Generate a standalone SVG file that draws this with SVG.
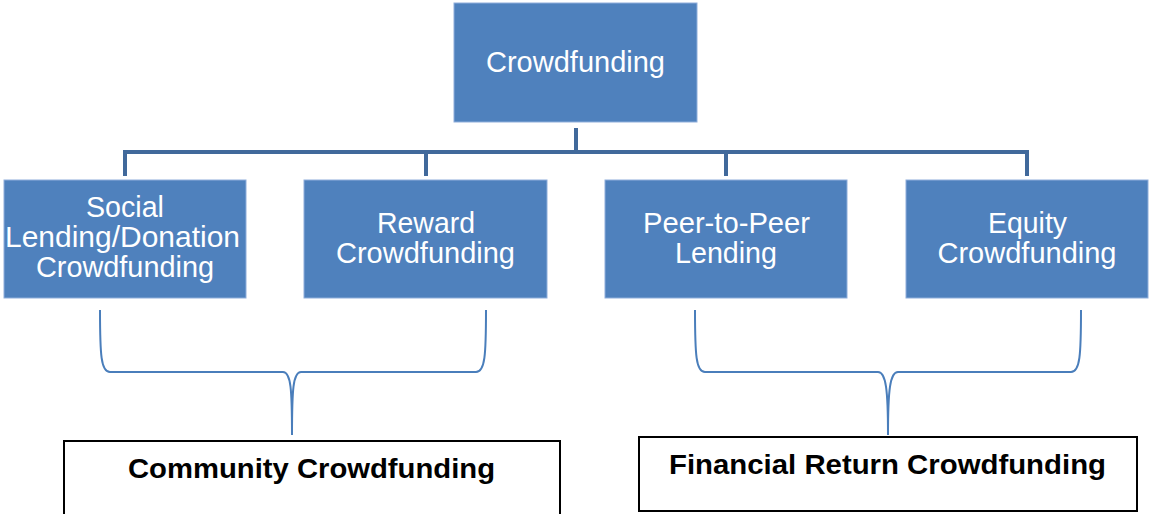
<svg xmlns="http://www.w3.org/2000/svg" width="1149" height="514" viewBox="0 0 1149 514">
<style>
.node{fill:#4F81BD;stroke:#8FAEDB;stroke-width:1}
.lbl{font-family:"Liberation Sans",Arial,sans-serif;font-size:29px;fill:#fff;text-anchor:middle}
.conn{fill:none;stroke:#41699B;stroke-width:4}
.brace{fill:none;stroke:#4A7EBB;stroke-width:2}
.box{fill:#fff;stroke:#000;stroke-width:2}
.blbl{font-family:"Liberation Sans",Arial,sans-serif;font-size:28px;font-weight:bold;fill:#000;text-anchor:middle}
</style>
<rect width="1149" height="514" fill="#fff"/>
<g id="connectors">
<path class="conn" d="M576 128V152M125 176V152H1027V176M426 152V176M726 152V176"/>
<path class="brace" d="M100 310C100 355 101 372 110 372H283C291 372 292 390 292 435C292 390 293 372 301 372H476C485 372 486 355 486 310"/>
<path class="brace" d="M695 310C695 355 696 372 705 372H878C886 372 888 390 888 435C888 390 890 372 898 372H1071C1080 372 1081 355 1081 310"/>
</g>
<g id="root"><rect class="node" x="454" y="3" width="243" height="119"/><text class="lbl" x="575.5" y="72" textLength="179" lengthAdjust="spacingAndGlyphs">Crowdfunding</text></g>
<g id="social"><rect class="node" x="4" y="180" width="242" height="118"/><text class="lbl" x="125" y="217" textLength="78" lengthAdjust="spacingAndGlyphs">Social</text><text class="lbl" x="122.5" y="247" textLength="235" lengthAdjust="spacingAndGlyphs">Lending/Donation</text><text class="lbl" x="125" y="277" textLength="178" lengthAdjust="spacingAndGlyphs">Crowdfunding</text></g>
<g id="reward"><rect class="node" x="304" y="180" width="243" height="118"/><text class="lbl" x="426" y="233" textLength="98" lengthAdjust="spacingAndGlyphs">Reward</text><text class="lbl" x="425.5" y="263" textLength="179" lengthAdjust="spacingAndGlyphs">Crowdfunding</text></g>
<g id="p2p"><rect class="node" x="605" y="180" width="242" height="118"/><text class="lbl" x="726.5" y="233" textLength="167" lengthAdjust="spacingAndGlyphs">Peer-to-Peer</text><text class="lbl" x="726" y="263" textLength="102" lengthAdjust="spacingAndGlyphs">Lending</text></g>
<g id="equity"><rect class="node" x="906" y="180" width="242" height="118"/><text class="lbl" x="1027.5" y="233" textLength="79" lengthAdjust="spacingAndGlyphs">Equity</text><text class="lbl" x="1027" y="263" textLength="179" lengthAdjust="spacingAndGlyphs">Crowdfunding</text></g>
<g id="community"><rect class="box" x="64" y="441" width="496" height="80"/><text class="blbl" x="311.5" y="478" textLength="367" lengthAdjust="spacingAndGlyphs">Community Crowdfunding</text></g>
<g id="financial"><rect class="box" x="639" y="437" width="498" height="74"/><text class="blbl" x="887.5" y="474" textLength="437" lengthAdjust="spacingAndGlyphs">Financial Return Crowdfunding</text></g>
</svg>
